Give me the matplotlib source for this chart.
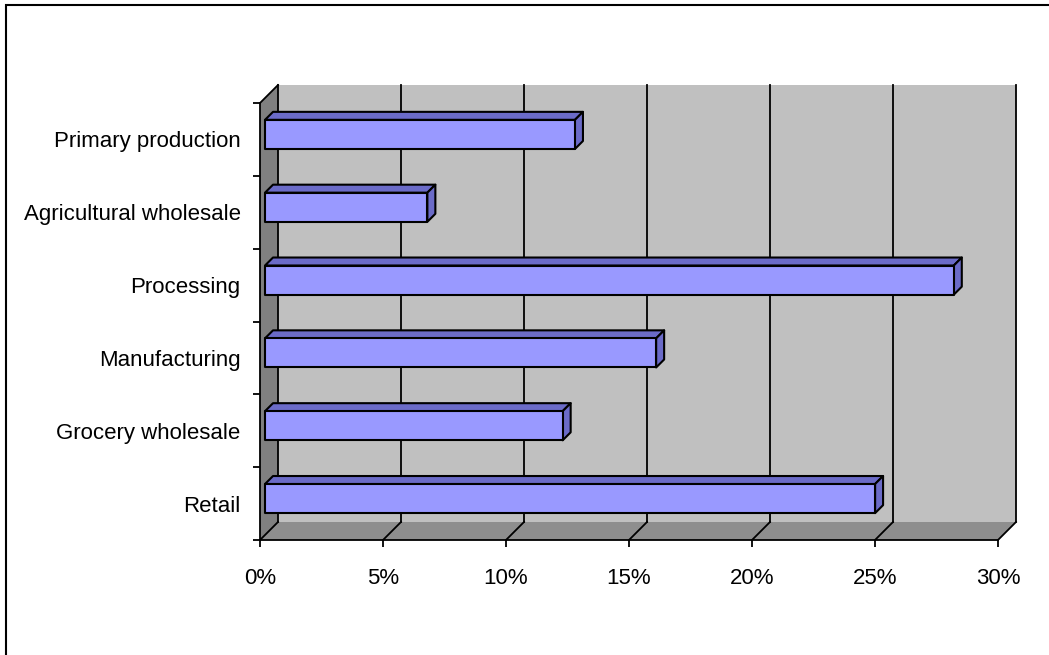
import matplotlib
matplotlib.use("Agg")
import matplotlib.pyplot as plt
from matplotlib.patches import Polygon, Rectangle

# share of total by stage of the food chain (%)
categories = ["Primary production", "Agricultural wholesale", "Processing",
              "Manufacturing", "Grocery wholesale", "Retail"]
shares = [12.6, 6.6, 28.0, 15.9, 12.1, 24.8]
xticks = [0, 5, 10, 15, 20, 25, 30]
xtick_labels = ["0%", "5%", "10%", "15%", "20%", "25%", "30%"]

family = ["Liberation Sans", "DejaVu Sans"]
fsize = 16

W, H = 1049, 655
fig = plt.figure(figsize=(W / 100, H / 100), dpi=100)

# front plane of the plot area in pixels
left, right, bottom, top = 260, 998, 540, 103
ax = fig.add_axes([left / W, 1 - bottom / H, (right - left) / W, (bottom - top) / H])
xmax = xticks[-1]
n = len(categories)
ax.set_xlim(0, xmax)
ax.set_ylim(0, n)

# pixel -> data units for the oblique depth direction
px_x = xmax / (right - left)
px_y = n / (bottom - top)

def off(z):
    return z * px_x, z * px_y

depth = 18
dx, dy = off(depth)

wall = "#c0c0c0"
side_wall = "#808080"
floor = "#8e8e8e"

# back wall, side wall, floor
ax.add_patch(Polygon([(dx, dy), (xmax + dx, dy), (xmax + dx, n + dy), (dx, n + dy)],
                     closed=True, fc=wall, ec="none", clip_on=False, zorder=1))
ax.add_patch(Polygon([(0, 0), (dx, dy), (dx, n + dy), (0, n)],
                     closed=True, fc=side_wall, ec="none", clip_on=False, zorder=1))
ax.add_patch(Polygon([(0, 0), (xmax, 0), (xmax + dx, dy), (dx, dy)],
                     closed=True, fc=floor, ec="none", clip_on=False, zorder=1))

# gridlines on the back wall and across the floor
for t in xticks:
    ax.plot([t + dx, t + dx], [dy, n + dy], color="black", lw=1.3, clip_on=False, zorder=2)
    ax.plot([t, t + dx], [0, dy], color="black", lw=1.3, clip_on=False, zorder=2)
ax.plot([0, dx], [n, n + dy], color="black", lw=1.3, clip_on=False, zorder=2)

# 3D bars
front = "#9999ff"
shade = "#6b6bc8"
z1, z2 = 5, 13
ox1, oy1 = off(z1)
ox2, oy2 = off(z2)
bh = 0.4
for i, (name, v) in enumerate(zip(categories, shares)):
    yc = n - i - 0.5
    y0 = yc - bh / 2 + oy1
    y1 = yc + bh / 2 + oy1
    kw = dict(closed=True, ec="black", lw=1.5, joinstyle="round", clip_on=False, zorder=3)
    ax.add_patch(Polygon([(ox1, y1), (v + ox1, y1), (v + ox2, y1 + oy2 - oy1), (ox2, y1 + oy2 - oy1)],
                         fc=shade, **kw))
    ax.add_patch(Polygon([(v + ox1, y0), (v + ox2, y0 + oy2 - oy1), (v + ox2, y1 + oy2 - oy1), (v + ox1, y1)],
                         fc=shade, **kw))
    ax.add_patch(Polygon([(ox1, y0), (v + ox1, y0), (v + ox1, y1), (ox1, y1)], fc=front, **kw))

# axes lines and ticks
for s in ["top", "right"]:
    ax.spines[s].set_visible(False)
for s in ["left", "bottom"]:
    ax.spines[s].set_color("black")
    ax.spines[s].set_linewidth(1.3)
    ax.spines[s].set_zorder(4)
ax.patch.set_visible(False)

ax.set_xticks(xticks)
ax.set_xticklabels(xtick_labels, family=family, fontsize=fsize)
ax.tick_params(axis="x", direction="out", length=5, width=1.3, pad=15)

ax.set_yticks(range(n + 1))
ax.set_yticklabels([])
ax.set_yticks([n - i - 0.5 for i in range(n)], minor=True)
ax.set_yticklabels(categories, minor=True, family=family, fontsize=fsize)
ax.tick_params(axis="y", which="major", direction="out", length=5, width=1.3)
ax.tick_params(axis="y", which="minor", length=0, pad=14)

# chart border
fig.add_artist(Rectangle((6 / W, -0.01), 1.0, 1 - 5 / H + 0.01, transform=fig.transFigure,
                         fill=False, ec="black", lw=1.5))

fig.savefig("out.png", dpi=100)
